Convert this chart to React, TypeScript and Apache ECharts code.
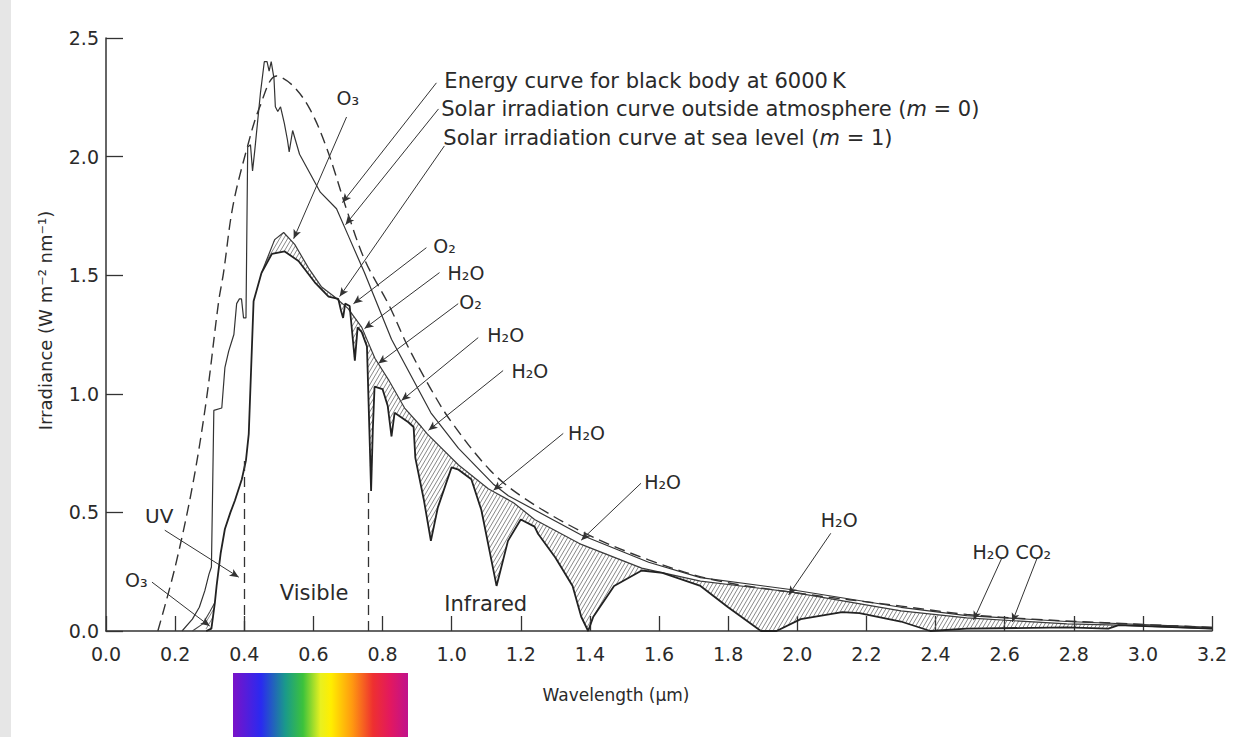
import React, { useEffect, useRef } from "react";
import * as echarts from "echarts";

// ---------- data ----------
const xMin = 0;
const xMax = 3.2;
const xStep = 0.2;
const yMin = 0;
const yMax = 2.5;
const yStep = 0.5;

// Energy curve for black body at 6000 K (dashed)
const bbX = [0.15, 0.2, 0.25, 0.29, 0.326, 0.34, 0.367, 0.407, 0.445, 0.493, 0.54, 0.59, 0.64, 0.7, 0.75, 0.82, 0.87, 0.94, 1.0, 1.11, 1.2, 1.375, 1.57, 1.76, 2.0, 2.3, 2.49, 2.68, 2.96, 3.2];
const bbY = [0, 0.27, 0.61, 0.97, 1.39, 1.51, 1.79, 2.03, 2.21, 2.34, 2.3, 2.2, 2.03, 1.76, 1.56, 1.37, 1.21, 1.02, 0.88, 0.68, 0.57, 0.42, 0.3, 0.215, 0.16, 0.105, 0.07, 0.05, 0.03, 0.015];

// Solar irradiation curve outside atmosphere (m = 0)
const outX = [0.22, 0.25, 0.27, 0.286, 0.298, 0.305, 0.308, 0.312, 0.335, 0.344, 0.355, 0.37, 0.378, 0.386, 0.392, 0.398, 0.405, 0.41, 0.418, 0.424, 0.43, 0.447, 0.458, 0.466, 0.472, 0.478, 0.486, 0.49, 0.497, 0.505, 0.516, 0.525, 0.53, 0.54, 0.548, 0.56, 0.59, 0.62, 0.667, 0.7, 0.748, 0.826, 0.94, 1.02, 1.12, 1.164, 1.375, 1.57, 1.72, 1.98, 2.3, 2.49, 2.78, 3.2];
const outY = [0, 0.05, 0.1, 0.17, 0.24, 0.27, 0.55, 0.93, 0.94, 1.11, 1.18, 1.25, 1.38, 1.4, 1.4, 1.32, 1.32, 2.04, 2.05, 1.94, 2.02, 2.27, 2.4, 2.4, 2.36, 2.4, 2.33, 2.21, 2.19, 2.21, 2.14, 2.07, 2.02, 2.11, 2.07, 2.01, 1.93, 1.85, 1.78, 1.67, 1.51, 1.23, 0.92, 0.77, 0.62, 0.57, 0.405, 0.29, 0.225, 0.175, 0.1, 0.065, 0.04, 0.015];

// Solar irradiation curve at sea level (m = 1)
const seaX = [0.29, 0.305, 0.315, 0.32, 0.332, 0.344, 0.36, 0.373, 0.393, 0.405, 0.413, 0.42, 0.427, 0.45, 0.48, 0.517, 0.557, 0.604, 0.644, 0.672, 0.68, 0.686, 0.692, 0.705, 0.72, 0.728, 0.74, 0.755, 0.762, 0.767, 0.772, 0.777, 0.8, 0.815, 0.826, 0.835, 0.875, 0.89, 0.895, 0.92, 0.94, 0.96, 1.0, 1.02, 1.057, 1.086, 1.13, 1.163, 1.2, 1.24, 1.25, 1.3, 1.35, 1.375, 1.395, 1.41, 1.47, 1.55, 1.61, 1.72, 1.8, 1.895, 1.94, 2.01, 2.13, 2.18, 2.3, 2.385, 2.49, 2.78, 2.9, 2.93, 3.2];
const seaY = [0, 0.01, 0.12, 0.19, 0.33, 0.43, 0.5, 0.55, 0.64, 0.72, 0.83, 1.11, 1.39, 1.51, 1.59, 1.6, 1.56, 1.47, 1.41, 1.4, 1.35, 1.32, 1.38, 1.37, 1.14, 1.28, 1.26, 1.2, 0.85, 0.59, 0.85, 1.03, 1.02, 0.95, 0.82, 0.92, 0.88, 0.86, 0.73, 0.55, 0.38, 0.52, 0.69, 0.68, 0.64, 0.51, 0.19, 0.38, 0.47, 0.44, 0.41, 0.31, 0.19, 0.06, 0, 0.06, 0.19, 0.255, 0.245, 0.19, 0.1, 0, 0, 0.05, 0.08, 0.075, 0.04, 0, 0.01, 0.015, 0.01, 0.025, 0.01];

// Upper edge of the absorption bands (hatched down to the sea-level curve)
const envUVX = [0.25, 0.28, 0.3, 0.315];
const envUVY = [0, 0.03, 0.08, 0.12];
const envX = [0.45, 0.488, 0.514, 0.546, 0.586, 0.624, 0.66, 0.7, 0.74, 0.778, 0.817, 0.864, 0.913, 0.93, 1.02, 1.106, 1.18, 1.24, 1.375, 1.55, 1.72, 1.98, 2.3, 2.49, 2.78, 2.93, 3.2];
const envY = [1.51, 1.65, 1.68, 1.63, 1.53, 1.45, 1.41, 1.36, 1.28, 1.15, 1.06, 0.94, 0.86, 0.83, 0.7, 0.6, 0.54, 0.47, 0.365, 0.265, 0.21, 0.165, 0.085, 0.055, 0.03, 0.025, 0.01];

// UV | Visible | Infrared boundaries (wavelength, height of dashed line)
const bandEdgeX = [0.4, 0.76];
const bandEdgeTop = [0.72, 0.6];

// Annotation labels (text, data x of left edge, data y of middle)
const noteTexts = [
  "Energy curve for black body at 6000\u2009K",
  "Solar irradiation curve outside atmosphere ({i|m} = 0)",
  "Solar irradiation curve at sea level ({i|m} = 1)",
  "O\u2083", "O\u2082", "H\u2082O", "O\u2082", "H\u2082O", "H\u2082O", "H\u2082O", "H\u2082O", "H\u2082O", "H\u2082O CO\u2082",
  "UV", "O\u2083", "Visible", "Infrared",
];
const noteX = [0.979, 0.97, 0.976, 0.667, 0.947, 0.988, 1.022, 1.103, 1.173, 1.337, 1.557, 2.068, 2.507, 0.113, 0.055, 0.503, 0.979];
const noteY = [2.319, 2.201, 2.079, 2.247, 1.625, 1.511, 1.385, 1.246, 1.098, 0.833, 0.627, 0.467, 0.332, 0.484, 0.215, 0.16, 0.114];
const noteSize = [21, 21, 21, 19, 19, 19, 19, 19, 19, 19, 19, 19, 19, 20, 19, 21, 21];

// Arrows (from -> to, data coordinates)
const arrowFromX = [0.956, 0.962, 0.979, 0.696, 0.927, 0.965, 1.019, 1.077, 1.149, 1.323, 1.548, 2.097, 2.593, 2.695, 0.17, 0.133];
const arrowFromY = [2.311, 2.201, 2.045, 2.167, 1.616, 1.511, 1.38, 1.237, 1.098, 0.833, 0.623, 0.412, 0.311, 0.311, 0.425, 0.206];
const arrowToX = [0.684, 0.693, 0.676, 0.543, 0.716, 0.748, 0.788, 0.855, 0.933, 1.121, 1.375, 1.975, 2.51, 2.622, 0.384, 0.3];
const arrowToY = [1.806, 1.713, 1.41, 1.654, 1.38, 1.275, 1.128, 0.972, 0.846, 0.593, 0.383, 0.152, 0.046, 0.038, 0.227, 0.021];

// ---------- helpers ----------
const FONT = "DejaVu Sans";
const pairs = (xs: number[], ys: number[]) => xs.map((x, i) => [x, ys[i]]);

function interp(xs: number[], ys: number[], x: number): number | null {
  const n = xs.length;
  if (x < xs[0] || x > xs[n - 1]) return null;
  for (let i = 1; i < n; i++) {
    if (x <= xs[i]) {
      const d = xs[i] - xs[i - 1] || 1;
      const t = (x - xs[i - 1]) / d;
      return ys[i - 1] + t * (ys[i] - ys[i - 1]);
    }
  }
  return ys[n - 1];
}

const HatchShape = (echarts.graphic as any).extendShape({
  type: "hatch",
  shape: { segs: [] as number[] },
  buildPath(ctx: any, shape: any) {
    const s = shape.segs || [];
    for (let i = 0; i < s.length; i += 4) {
      ctx.moveTo(s[i], s[i + 1]);
      ctx.lineTo(s[i + 2], s[i + 3]);
    }
  },
});
(echarts.graphic as any).registerShape("hatch", HatchShape);

function renderHatch(_params: any, api: any) {
  const segs: number[] = [];
  const k = 1.7;
  const dc = 6.8;
  const step = 0.5;
  const h = step / 2;
  const bands: [number[], number[]][] = [
    [envUVX, envUVY],
    [envX, envY],
  ];
  for (const [ex, ey] of bands) {
    const xa = Math.max(ex[0], seaX[0]);
    const xb = Math.min(ex[ex.length - 1], seaX[seaX.length - 1]);
    if (xb <= xa) continue;
    const pa = api.coord([xa, 0])[0];
    const pb = api.coord([xb, 0])[0];
    const cols: (number[] | null)[] = [];
    let cmin = Infinity;
    let cmax = -Infinity;
    for (let px = pa; px <= pb; px += step) {
      const x = xa + ((px - pa) / (pb - pa)) * (xb - xa);
      const u = interp(ex, ey, x);
      const l = interp(seaX, seaY, x);
      if (u === null || l === null || u - l < 0.004) {
        cols.push(null);
        continue;
      }
      const top = api.coord([x, u])[1];
      const bot = api.coord([x, l])[1];
      cols.push([px, top, bot]);
      cmin = Math.min(cmin, top + k * px);
      cmax = Math.max(cmax, bot + k * px);
    }
    if (!isFinite(cmin)) continue;
    for (let c = Math.floor(cmin / dc) * dc; c <= cmax; c += dc) {
      let sx = NaN, sy = NaN, exx = NaN, eyy = NaN;
      for (const col of cols) {
        let inside = false;
        if (col) {
          const y = c - k * col[0];
          if (y >= col[1] && y <= col[2]) {
            inside = true;
            if (isNaN(sx)) { sx = col[0]; sy = y; }
            exx = col[0]; eyy = y;
          }
        }
        if (!inside && !isNaN(sx)) {
          segs.push(sx - h, sy + k * h, exx + h, eyy - k * h);
          sx = NaN;
        }
      }
      if (!isNaN(sx)) segs.push(sx - h, sy + k * h, exx + h, eyy - k * h);
    }
  }
  return {
    type: "hatch",
    shape: { segs },
    style: { stroke: "#6a6a6a", lineWidth: 0.8, fill: "none" },
    silent: true,
  };
}

export default function App() {
  const ref = useRef<HTMLDivElement>(null);

  useEffect(() => {
    if (!ref.current) return;
    const chart = echarts.init(ref.current, undefined, { renderer: "svg" });

    const arrows = arrowFromX.map((_, i) => [
      { coord: [arrowFromX[i], arrowFromY[i]], symbol: "none" },
      { coord: [arrowToX[i], arrowToY[i]], symbol: "arrow" },
    ]);
    const edges = bandEdgeX.map((x, i) => [
      { coord: [x, 0] },
      { coord: [x, bandEdgeTop[i]] },
    ]);

    const option: any = {
      animation: false,
      backgroundColor: "#ffffff",
      grid: { left: 106, right: 24, top: 38, bottom: 106, containLabel: false },
      xAxis: {
        type: "value",
        min: xMin,
        max: xMax,
        interval: xStep,
        axisLine: { show: true, onZero: false, lineStyle: { color: "#333", width: 1.5 } },
        axisTick: { show: true, inside: true, length: 15, lineStyle: { color: "#333", width: 1.3 } },
        axisLabel: {
          formatter: (v: number) => v.toFixed(1),
          fontFamily: FONT, fontSize: 19, color: "#2a2a2a", margin: 13,
        },
        splitLine: { show: false },
        name: "Wavelength (\u03bcm)",
        nameLocation: "middle",
        nameGap: 55,
        nameTextStyle: { fontFamily: FONT, fontSize: 17, color: "#2a2a2a", padding: [0, 86, 0, 0] },
      },
      yAxis: {
        type: "value",
        min: yMin,
        max: yMax,
        interval: yStep,
        axisLine: { show: true, lineStyle: { color: "#333", width: 1.5 } },
        axisTick: { show: true, inside: true, length: 17, lineStyle: { color: "#333", width: 1.3 } },
        axisLabel: {
          formatter: (v: number) => v.toFixed(1),
          fontFamily: FONT, fontSize: 19, color: "#2a2a2a", margin: 7,
        },
        splitLine: { show: false },
        name: "Irradiance (W m\u207b\u00b2 nm\u207b\u00b9)",
        nameLocation: "middle",
        nameGap: 52,
        nameRotate: 90,
        nameTextStyle: { fontFamily: FONT, fontSize: 18, color: "#2a2a2a", padding: [0, 0, 0, 28] },
      },
      series: [
        {
          name: "Absorption",
          type: "custom",
          coordinateSystem: "cartesian2d",
          data: [[0, 0]],
          renderItem: renderHatch,
          silent: true,
          clip: false,
          z: 1,
        },
        {
          name: "Black body 6000 K",
          type: "line",
          data: pairs(bbX, bbY),
          showSymbol: false,
          symbol: "none",
          smooth: 0.35,
          lineStyle: { color: "#333", width: 1.4, type: [11, 6] },
          z: 3,
          silent: true,
        },
        {
          name: "Outside atmosphere (m = 0)",
          type: "line",
          data: pairs(outX, outY),
          symbol: "none",
          lineStyle: { color: "#333", width: 1.2 },
          z: 3,
          silent: true,
          markLine: {
            silent: true,
            symbol: ["none", "none"],
            label: { show: false },
            lineStyle: { color: "#333", width: 1.3, type: [10, 6] },
            emphasis: { disabled: true },
            data: edges,
          },
        },
        {
          name: "Band edge UV",
          type: "line",
          data: pairs(envUVX, envUVY),
          symbol: "none",
          lineStyle: { color: "#444", width: 1.1 },
          z: 3,
          silent: true,
        },
        {
          name: "Band edge",
          type: "line",
          data: pairs(envX, envY),
          symbol: "none",
          lineStyle: { color: "#3a3a3a", width: 1.2 },
          z: 3,
          silent: true,
        },
        {
          name: "Sea level (m = 1)",
          type: "line",
          data: pairs(seaX, seaY),
          symbol: "none",
          lineStyle: { color: "#222", width: 1.8 },
          z: 4,
          silent: true,
          markLine: {
            silent: true,
            symbol: ["none", "arrow"],
            symbolSize: [6, 9],
            label: { show: false },
            lineStyle: { color: "#333", width: 1, type: "solid" },
            emphasis: { disabled: true },
            data: arrows,
          },
        },
      ],
    };
    chart.setOption(option);

    const texts = noteTexts.map((t, i) => {
      const p = chart.convertToPixel({ gridIndex: 0 }, [noteX[i], noteY[i]]) as number[];
      return {
        type: "text",
        x: p[0],
        y: p[1],
        silent: true,
        z: 10,
        style: {
          text: t,
          fill: "#2a2a2a",
          fontFamily: FONT,
          fontSize: noteSize[i],
          align: "left",
          verticalAlign: "middle",
          textAlign: "left",
          textVerticalAlign: "middle",
          rich: {
            i: { fontStyle: "italic", fontFamily: FONT, fontSize: noteSize[i], fill: "#2a2a2a" },
          },
        },
      };
    });

    chart.setOption({
      graphic: [
        {
          type: "rect",
          left: 0,
          top: 0,
          shape: { width: 11, height: 737 },
          style: { fill: "#e6e6e6" },
          silent: true,
          z: 0,
        },
        {
          type: "rect",
          left: 233,
          top: 673,
          shape: { width: 175, height: 64 },
          silent: true,
          style: {
            fill: new echarts.graphic.LinearGradient(0, 0, 1, 0, [
              { offset: 0, color: "#7a12c8" },
              { offset: 0.16, color: "#2a2af0" },
              { offset: 0.3, color: "#1a9a8a" },
              { offset: 0.4, color: "#3cc23c" },
              { offset: 0.5, color: "#e8f020" },
              { offset: 0.56, color: "#ffee00" },
              { offset: 0.68, color: "#ff9a10" },
              { offset: 0.8, color: "#ee3030" },
              { offset: 0.9, color: "#e21860" },
              { offset: 1, color: "#c0128c" },
            ]),
          },
        },
        ...texts,
      ],
    });

    return () => chart.dispose();
  }, []);

  return (
    <div
      ref={ref}
      style={{ position: "fixed", left: 0, top: 0, width: 1236, height: 737, background: "#fff" }}
    />
  );
}
